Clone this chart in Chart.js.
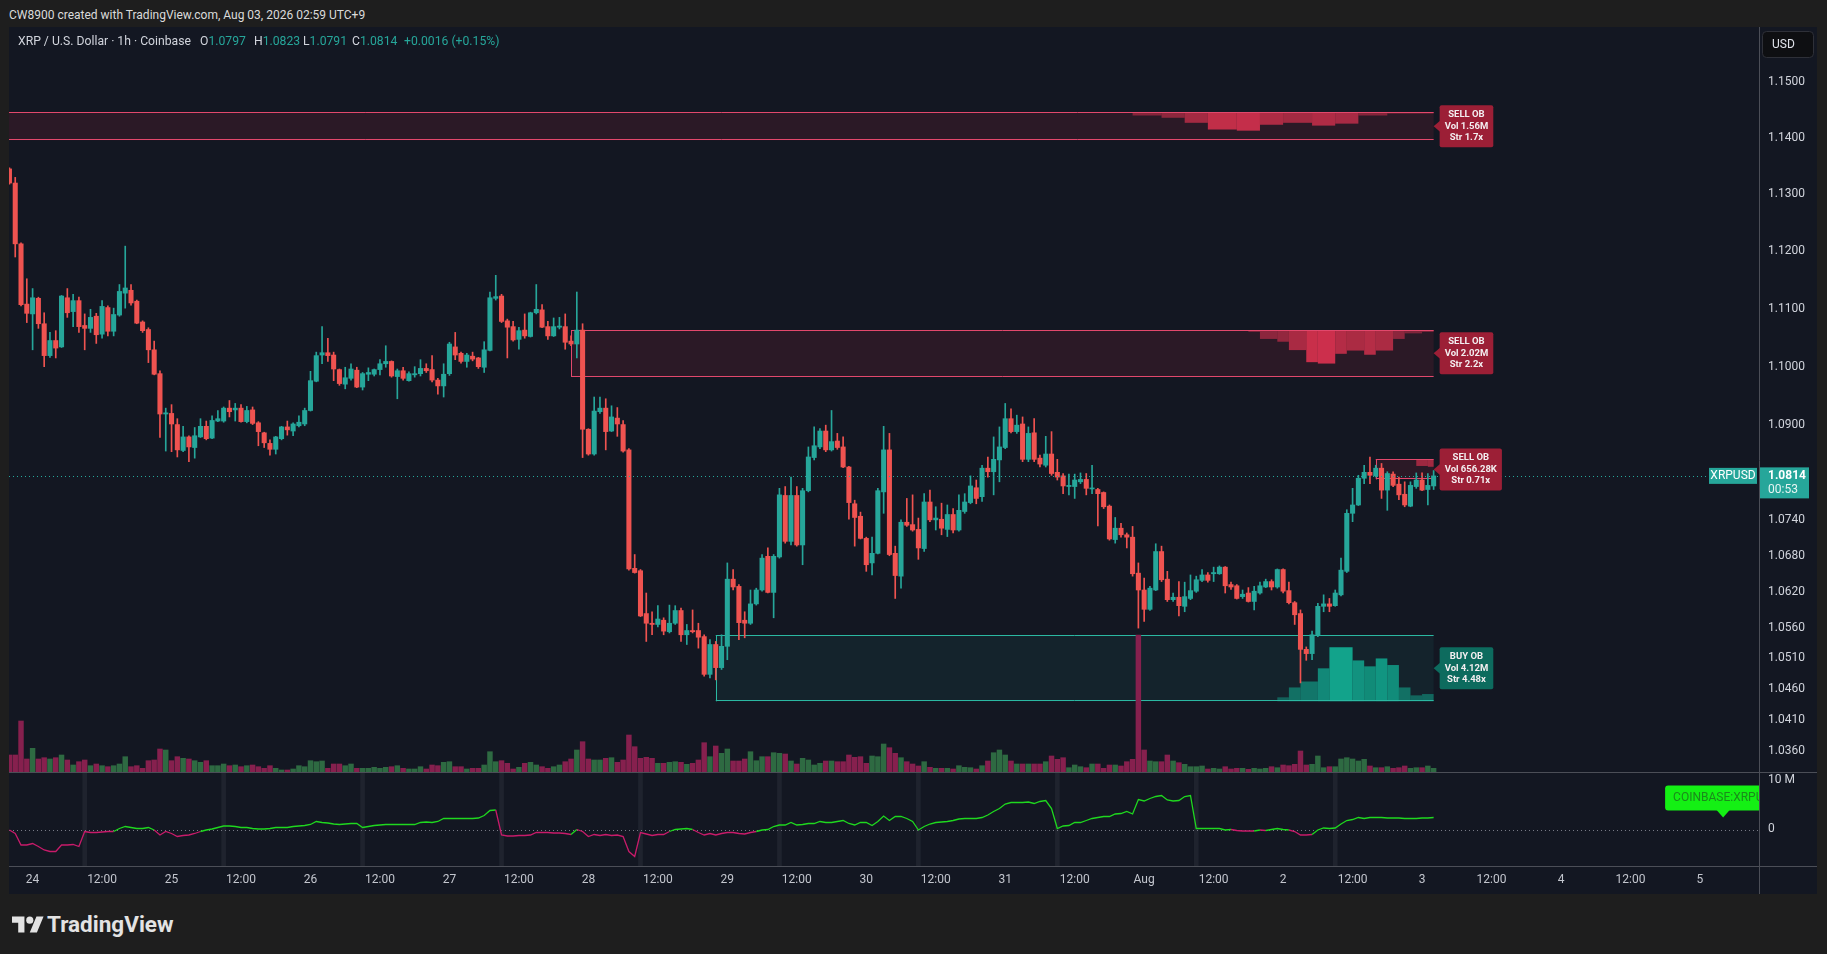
<!DOCTYPE html>
<html>
<head>
<meta charset="utf-8">
<script src="https://cdn.jsdelivr.net/npm/chart.js@4.4.1/dist/chart.umd.min.js"></script>
<style>
html,body{margin:0;padding:0;width:1827px;height:954px;overflow:hidden;background:#1e1e1e;font-family:Roboto,sans-serif}
#hdr{position:absolute;left:9px;top:8px;font-size:12px;line-height:14px;color:#dbdbdb;white-space:nowrap}
#panel{position:absolute;left:9px;top:27px;width:1808px;height:867px;background:#131722}
#title span{position:absolute;top:34px;font-size:12.2px;line-height:14px;color:#d1d4dc;white-space:nowrap}
#title b{font-weight:normal;color:#26a69a}
#logo{position:absolute;left:12px;top:911px;height:26px}
#logo svg{position:absolute;left:0;top:2px}
#logo span{position:absolute;left:35px;top:0;font-size:22.5px;line-height:26px;font-weight:bold;color:#e3e3e3;white-space:nowrap}
</style>
</head>
<body>
<div id="hdr">CW8900 created with TradingView.com, Aug 03, 2026 02:59 UTC+9</div>
<div id="panel"><canvas id="chart" width="1808" height="867"></canvas></div>
<div id="title">
  <span style="left:18px">XRP / U.S. Dollar · 1h · Coinbase</span>
  <span style="left:200px">O<b>1.0797</b></span>
  <span style="left:254px">H<b>1.0823</b></span>
  <span style="left:303px">L<b>1.0791</b></span>
  <span style="left:352px">C<b>1.0814</b></span>
  <span style="left:404px"><b>+0.0016 (+0.15%)</b></span>
</div>
<div id="logo">
  <svg width="32" height="25" viewBox="0 0 36 28"><path d="M14 22H7V11H0V4h14v18zM28 22h-8l7.5-18h8L28 22z" fill="#e3e3e3"/><circle cx="20" cy="8" r="4" fill="#e3e3e3"/></svg>
  <span>TradingView</span>
</div>
<script>
// hourly candles, hour 0 = Jul 24 00:00 (UTC+9), first candle at hour -4
var firstHour = -4;

var opens = [
  1.1345,1.1320,1.1213,1.1108,1.1091,1.1118,1.1074,1.1019,1.1045,1.1034,
  1.1119,1.1095,1.1114,1.1071,1.1066,1.1087,1.1056,1.1102,1.1061,1.1089,
  1.1127,1.1132,1.1113,1.1077,1.1064,1.1029,1.0988,1.0919,1.0920,1.0901,
  1.0857,1.0880,1.0862,1.0880,1.0898,1.0878,1.0907,1.0907,1.0929,1.0926,
  1.0929,1.0906,1.0926,1.0904,1.0887,1.0869,1.0859,1.0877,1.0897,1.0890,
  1.0899,1.0902,1.0925,1.0975,1.1020,1.1024,1.1020,1.0995,1.0970,1.0980,
  1.0994,1.0965,1.0987,1.0987,1.0995,1.1005,1.1009,1.0983,1.0993,1.0976,
  1.0986,1.0988,1.0997,1.0995,1.0977,1.0967,1.0988,1.1034,1.1023,1.1009,
  1.1018,1.1015,1.0999,1.1028,1.1118,1.1122,1.1079,1.1069,1.1047,1.1063,
  1.1052,1.1093,1.1098,1.1069,1.1053,1.1068,1.1069,1.1044,1.1039,1.1063,
  1.0893,1.0851,1.0923,1.0929,1.0890,1.0912,1.0901,1.0858,1.0659,1.0655,
  1.0584,1.0568,1.0566,1.0573,1.0554,1.0568,1.0589,1.0549,1.0556,1.0556,
  1.0546,1.0484,1.0533,1.0495,1.0530,1.0641,1.0629,1.0573,1.0568,1.0600,
  1.0623,1.0679,1.0619,1.0678,1.0781,1.0704,1.0781,1.0698,1.0789,1.0845,
  1.0863,1.0890,1.0858,1.0873,1.0863,1.0829,1.0767,1.0746,1.0709,1.0668,
  1.0684,1.0787,1.0858,1.0684,1.0646,1.0736,1.0732,1.0724,1.0692,1.0770,
  1.0740,1.0741,1.0724,1.0749,1.0723,1.0754,1.0769,1.0794,1.0779,1.0827,
  1.0821,1.0841,1.0862,1.0911,1.0889,1.0902,1.0842,1.0887,1.0844,1.0832,
  1.0851,1.0820,1.0814,1.0796,1.0796,1.0804,1.0808,1.0792,1.0791,1.0786,
  1.0763,1.0707,1.0726,1.0715,1.0711,1.0651,1.0623,1.0591,1.0623,1.0687,
  1.0641,1.0607,1.0611,1.0596,1.0609,1.0621,1.0639,1.0648,1.0650,1.0650,
  1.0661,1.0632,1.0630,1.0612,1.0618,1.0604,1.0618,1.0628,1.0637,1.0628,
  1.0657,1.0622,1.0602,1.0584,1.0525,1.0518,1.0548,1.0596,1.0600,1.0597,
  1.0615,1.0654,1.0751,1.0765,1.0810,1.0820,1.0814,1.0827,1.0790,1.0817,
  1.0800,1.0783,1.0763,1.0796,1.0807,1.0791,1.0797
];
var highs = [
  1.1347,1.1330,1.1215,1.1152,1.1135,1.1120,1.1093,1.1059,1.1062,1.1123,
  1.1135,1.1125,1.1120,1.1091,1.1099,1.1092,1.1114,1.1105,1.1101,1.1142,
  1.1209,1.1142,1.1115,1.1079,1.1067,1.1044,1.0993,1.0929,1.0935,1.0911,
  1.0898,1.0882,1.0896,1.0911,1.0907,1.0916,1.0925,1.0931,1.0942,1.0937,
  1.0935,1.0932,1.0931,1.0906,1.0888,1.0875,1.0881,1.0898,1.0907,1.0904,
  1.0916,1.0929,1.0992,1.1025,1.1069,1.1049,1.1025,1.0996,1.0999,1.1005,
  1.0999,1.0990,1.0998,1.0996,1.1012,1.1036,1.1010,1.0996,1.0999,1.0991,
  1.1000,1.1012,1.1005,1.1019,1.0980,1.1005,1.1042,1.1059,1.1025,1.1023,
  1.1025,1.1016,1.1043,1.1129,1.1158,1.1125,1.1082,1.1078,1.1068,1.1091,
  1.1094,1.1142,1.1107,1.1078,1.1084,1.1085,1.1091,1.1053,1.1129,1.1074,
  1.0894,1.0948,1.0948,1.0945,1.0933,1.0930,1.0908,1.0860,1.0682,1.0657,
  1.0618,1.0587,1.0597,1.0577,1.0598,1.0597,1.0593,1.0566,1.0590,1.0568,
  1.0549,1.0541,1.0538,1.0549,1.0668,1.0657,1.0632,1.0587,1.0623,1.0626,
  1.0682,1.0693,1.0682,1.0793,1.0796,1.0812,1.0796,1.0793,1.0863,1.0897,
  1.0894,1.0900,1.0925,1.0886,1.0880,1.0830,1.0773,1.0753,1.0711,1.0711,
  1.0793,1.0898,1.0886,1.0696,1.0740,1.0776,1.0782,1.0743,1.0784,1.0790,
  1.0762,1.0768,1.0765,1.0759,1.0782,1.0784,1.0814,1.0807,1.0832,1.0846,
  1.0880,1.0897,1.0937,1.0928,1.0917,1.0914,1.0897,1.0911,1.0849,1.0881,
  1.0889,1.0842,1.0818,1.0817,1.0817,1.0819,1.0818,1.0832,1.0793,1.0787,
  1.0765,1.0744,1.0734,1.0718,1.0729,1.0668,1.0643,1.0629,1.0700,1.0696,
  1.0654,1.0618,1.0637,1.0636,1.0648,1.0646,1.0657,1.0652,1.0661,1.0663,
  1.0662,1.0636,1.0632,1.0623,1.0627,1.0629,1.0636,1.0641,1.0640,1.0658,
  1.0658,1.0636,1.0604,1.0590,1.0529,1.0555,1.0601,1.0615,1.0609,1.0623,
  1.0676,1.0757,1.0793,1.0815,1.0832,1.0846,1.0832,1.0835,1.0821,1.0821,
  1.0812,1.0804,1.0804,1.0819,1.0819,1.0818,1.0823
];
var lows = [
  1.1318,1.1190,1.1105,1.1076,1.1029,1.1066,1.1000,1.1016,1.1015,1.1033,
  1.1085,1.1069,1.1059,1.1029,1.1059,1.1040,1.1049,1.1053,1.1053,1.1087,
  1.1101,1.1106,1.1074,1.1059,1.1007,1.0986,1.0879,1.0856,1.0855,1.0846,
  1.0855,1.0838,1.0844,1.0879,1.0875,1.0877,1.0906,1.0905,1.0914,1.0907,
  1.0905,1.0904,1.0901,1.0865,1.0862,1.0849,1.0851,1.0875,1.0883,1.0882,
  1.0897,1.0899,1.0924,1.0974,1.1005,1.1009,1.0976,1.0968,1.0962,1.0977,
  1.0964,1.0960,1.0976,1.0984,1.0986,1.0999,1.0982,1.0945,1.0977,1.0975,
  1.0982,1.0984,1.0990,1.0974,1.0953,1.0948,1.0985,1.1012,1.1006,1.0999,
  1.1010,1.0997,1.0990,1.1027,1.1115,1.1076,1.1015,1.1044,1.1030,1.1049,
  1.1051,1.1091,1.1067,1.1047,1.1052,1.1065,1.1030,1.1036,1.1015,1.0845,
  1.0849,1.0849,1.0920,1.0858,1.0889,1.0881,1.0854,1.0656,1.0651,1.0579,
  1.0538,1.0549,1.0562,1.0549,1.0552,1.0566,1.0538,1.0533,1.0552,1.0527,
  1.0481,1.0478,1.0475,1.0492,1.0508,1.0623,1.0541,1.0544,1.0566,1.0598,
  1.0621,1.0618,1.0577,1.0676,1.0701,1.0698,1.0696,1.0665,1.0787,1.0841,
  1.0860,1.0855,1.0856,1.0859,1.0828,1.0741,1.0696,1.0708,1.0654,1.0648,
  1.0683,1.0751,1.0680,1.0609,1.0626,1.0729,1.0721,1.0674,1.0687,1.0737,
  1.0723,1.0715,1.0712,1.0718,1.0721,1.0751,1.0767,1.0767,1.0771,1.0812,
  1.0782,1.0804,1.0860,1.0887,1.0886,1.0838,1.0838,1.0838,1.0829,1.0829,
  1.0815,1.0807,1.0784,1.0782,1.0776,1.0801,1.0782,1.0784,1.0730,1.0759,
  1.0706,1.0701,1.0711,1.0693,1.0646,1.0560,1.0571,1.0589,1.0622,1.0637,
  1.0604,1.0604,1.0580,1.0587,1.0607,1.0619,1.0637,1.0636,1.0637,1.0649,
  1.0618,1.0624,1.0608,1.0609,1.0603,1.0590,1.0616,1.0627,1.0623,1.0626,
  1.0618,1.0600,1.0566,1.0470,1.0507,1.0508,1.0546,1.0587,1.0587,1.0596,
  1.0613,1.0652,1.0737,1.0764,1.0801,1.0801,1.0812,1.0776,1.0756,1.0796,
  1.0774,1.0762,1.0762,1.0793,1.0789,1.0765,1.0791
];
var closes = [
  1.1320,1.1213,1.1107,1.1092,1.1119,1.1074,1.1019,1.1045,1.1032,1.1122,
  1.1093,1.1114,1.1069,1.1066,1.1085,1.1055,1.1104,1.1061,1.1090,1.1130,
  1.1136,1.1110,1.1075,1.1062,1.1029,1.0987,1.0919,1.0921,1.0902,1.0858,
  1.0880,1.0863,1.0882,1.0898,1.0877,1.0908,1.0911,1.0929,1.0923,1.0929,
  1.0906,1.0925,1.0903,1.0889,1.0870,1.0859,1.0880,1.0897,1.0892,1.0902,
  1.0905,1.0925,1.0976,1.1019,1.1024,1.1019,1.0996,1.0971,1.0981,1.0996,
  1.0965,1.0988,1.0990,1.0995,1.1005,1.1009,1.0984,1.0993,1.0980,1.0988,
  1.0988,1.0997,1.0993,1.0977,1.0967,1.0987,1.1039,1.1020,1.1009,1.1020,
  1.1013,1.1000,1.1029,1.1119,1.1121,1.1078,1.1068,1.1046,1.1062,1.1053,
  1.1093,1.1099,1.1068,1.1053,1.1069,1.1070,1.1042,1.1039,1.1063,1.0893,
  1.0851,1.0924,1.0929,1.0889,1.0914,1.0902,1.0856,1.0658,1.0652,1.0580,
  1.0568,1.0566,1.0575,1.0555,1.0568,1.0589,1.0549,1.0556,1.0554,1.0545,
  1.0484,1.0533,1.0495,1.0530,1.0641,1.0628,1.0569,1.0568,1.0600,1.0623,
  1.0676,1.0619,1.0679,1.0782,1.0704,1.0781,1.0698,1.0789,1.0846,1.0865,
  1.0890,1.0858,1.0872,1.0862,1.0829,1.0769,1.0744,1.0709,1.0665,1.0684,
  1.0789,1.0858,1.0682,1.0647,1.0736,1.0731,1.0723,1.0693,1.0770,1.0740,
  1.0743,1.0726,1.0749,1.0723,1.0756,1.0770,1.0797,1.0776,1.0827,1.0821,
  1.0842,1.0863,1.0911,1.0889,1.0900,1.0842,1.0886,1.0842,1.0834,1.0851,
  1.0818,1.0812,1.0797,1.0798,1.0807,1.0808,1.0793,1.0793,1.0784,1.0762,
  1.0708,1.0726,1.0715,1.0711,1.0650,1.0623,1.0591,1.0626,1.0687,1.0640,
  1.0607,1.0611,1.0597,1.0612,1.0622,1.0640,1.0648,1.0639,1.0652,1.0661,
  1.0630,1.0628,1.0609,1.0616,1.0604,1.0621,1.0630,1.0637,1.0628,1.0657,
  1.0621,1.0602,1.0582,1.0525,1.0518,1.0549,1.0596,1.0600,1.0596,1.0618,
  1.0656,1.0751,1.0765,1.0810,1.0820,1.0815,1.0827,1.0790,1.0818,1.0798,
  1.0782,1.0765,1.0798,1.0807,1.0790,1.0798,1.0814
];
// volume in millions
var volumes = [
  1.70,1.70,5.10,1.30,2.37,1.30,1.43,1.30,1.43,1.70,
  1.20,0.70,1.03,1.20,0.63,0.80,0.63,0.53,0.63,0.80,
  1.53,0.53,0.63,0.37,1.13,1.20,2.30,2.20,1.13,1.53,
  1.37,1.30,1.13,0.97,1.13,0.63,0.63,0.80,0.63,0.70,
  0.53,0.63,0.70,0.53,0.37,0.63,0.37,0.20,0.20,0.30,
  0.63,0.53,1.13,1.03,1.10,0.37,0.80,0.80,0.63,0.80,
  0.37,0.37,0.37,0.47,0.37,0.47,0.53,0.63,0.37,0.30,
  0.30,0.53,0.30,0.70,0.63,0.97,1.03,0.53,0.53,0.30,
  0.37,0.37,0.70,2.03,1.03,1.13,0.87,0.30,0.47,0.87,
  0.97,0.70,0.53,0.37,0.53,0.70,1.03,1.30,2.20,3.03,
  1.30,1.20,1.20,1.37,1.43,0.97,1.20,3.70,2.53,1.37,
  1.47,1.37,0.87,0.87,0.97,1.03,0.97,0.77,0.87,1.20,
  2.93,1.53,2.60,1.87,2.30,1.10,1.10,1.30,2.03,1.13,
  1.53,1.53,1.93,1.87,1.80,1.10,0.80,1.37,1.20,0.70,
  0.87,1.10,1.10,1.03,1.03,1.70,1.47,1.53,0.87,1.60,
  1.53,2.80,2.43,1.87,1.43,1.03,0.80,0.60,1.03,0.47,
  0.37,0.37,0.37,0.30,0.63,0.47,0.43,0.30,0.63,1.10,
  1.93,2.20,1.70,1.10,0.80,0.80,0.80,0.80,0.80,1.03,
  1.60,1.27,1.43,0.43,0.70,0.53,0.43,0.80,0.80,0.37,
  0.70,0.70,0.60,1.03,1.27,13.70,2.20,1.10,1.03,1.03,
  1.70,1.10,0.93,0.77,0.53,0.53,0.60,0.30,0.37,0.30,
  0.53,0.30,0.37,0.37,0.27,0.37,0.30,0.37,0.53,0.43,
  0.70,0.63,0.77,2.10,0.70,0.77,1.60,0.43,0.53,0.53,
  1.30,1.43,1.30,1.10,1.27,0.60,0.43,0.43,0.53,0.37,
  0.43,0.60,0.37,0.43,0.43,0.60,0.37
];
// session volume delta (millions), lower pane
var deltas = [
  0,-0.7,-3.0,-3.0,-2.7,-3.3,-4.0,-4.3,-4.3,-3.0,
  -3.0,-2.9,-3.3,-0.3,-0.5,-0.5,-0.4,-0.3,-0.3,0.3,
  0.7,0.5,0.3,0.3,0.5,0,-1.0,-0.3,-0.7,-1.3,
  -1.1,-1.0,-0.7,-0.3,0,0.2,0.5,0.8,0.8,0.7,
  0.5,0.5,0.3,0.2,0.2,0.3,0.5,0.5,0.5,0.7,
  0.8,0.9,1.1,1.7,1.5,1.4,1.2,1.1,1.2,1.3,
  1.3,0.5,0.7,0.9,1.0,1.1,1.1,1.1,1.1,1.1,
  1.1,1.5,1.6,1.5,1.7,2.3,2.3,2.3,2.3,2.3,
  2.3,2.4,2.9,3.9,4.0,-1.0,-1.2,-1.2,-1.1,-1.1,
  -1.0,-0.5,-0.5,-0.5,-0.6,-0.6,-0.7,-0.9,0.1,-0.3,
  -1.3,-0.9,-1.1,-0.9,-1.1,-1.0,-1.3,-4.3,-5.3,-0.5,
  -0.8,-1.1,-0.9,-0.9,-0.3,0.1,0.2,0.3,0.1,-0.5,
  -1.0,-0.7,-1.0,-0.7,-0.5,-0.5,-0.7,-0.8,-0.5,-0.3,
  0,0.1,0.7,1.0,1.0,1.5,1.0,1.1,1.3,1.3,
  1.7,1.5,1.5,1.7,1.9,1.3,1.0,1.5,1.5,0.9,
  1.7,2.8,1.9,2.7,2.7,2.3,1.7,0,0.7,1.2,
  1.5,1.6,1.7,1.9,2.2,2.3,2.3,2.3,2.5,3.0,
  3.7,4.3,5.2,5.5,5.5,5.5,5.6,5.3,5.7,5.9,
  4.3,0.3,0.8,0.9,1.5,1.5,1.9,2.3,2.5,2.7,
  2.7,3.2,3.3,3.7,3.2,6.1,5.8,6.3,6.7,6.9,
  6.0,5.8,5.9,6.7,6.9,0.3,0.3,0.3,0.3,0.3,
  0,0.1,-0.1,-0.2,-0.2,-0.2,0,-0.1,0.1,0.3,
  0.1,0,-0.3,-1.0,-1.0,-0.9,0,0.4,0.3,0.4,
  1.2,1.9,2.1,2.5,2.3,2.5,2.5,2.5,2.4,2.4,
  2.4,2.3,2.3,2.3,2.4,2.4,2.5
];

var sessionHours = [9, 33, 57, 81, 105, 129, 153, 177, 201, 225];

var xTickHours  = [0,12,24,36,48,60,72,84,96,108,120,132,144,156,168,180,192,204,216,228,240,252,264,276,288];
var xTickLabels = ['24','12:00','25','12:00','26','12:00','27','12:00','28','12:00','29','12:00','30','12:00','31','12:00','Aug','12:00','2','12:00','3','12:00','4','12:00','5'];
var priceTicks  = [1.15,1.14,1.13,1.12,1.11,1.10,1.09,1.074,1.068,1.062,1.056,1.051,1.046,1.041,1.036];

// order blocks
var obSide     = ['sell','sell','sell','buy'];
var obStart    = [-10, 93, 232, 118];
var obEnd      = [242, 242, 242, 242];
var obTop      = [1.1446, 1.1063, 1.0842, 1.0548];
var obBottom   = [1.1396, 1.0983, 1.0808, 1.0440];
var obVolume   = ['1.56M', '2.02M', '656.28K', '4.12M'];
var obStrength = ['1.7x', '2.2x', '0.71x', '4.48x'];
var obProfileEdges = [
  [190,195,199,203,208,212,216,221,225,229,234,242],
  [210,212,215,217,220,222,225,227,230,232,235,237,240,242],
  [239,241,242],
  [215,217,219,222,224,226,228,230,232,234,236,238,240,242]
];
var obProfileDepth = [
  [0.12,0.20,0.38,0.62,0.66,0.45,0.38,0.48,0.41,0.12,0.05],
  [0.04,0.19,0.25,0.43,0.69,0.72,0.51,0.44,0.53,0.44,0.19,0.07,0.04],
  [0.33,0.37],
  [0.06,0.21,0.30,0.50,0.82,0.82,0.62,0.53,0.65,0.55,0.21,0.09,0.11]
];

var lastPrice = 1.0814;
var countdown = '00:53';
var labelHour = 292;

var UP = '#26a69a', DOWN = '#ef5350';
var VOL_UP = '#2e6a42', VOL_DOWN = '#86204e';
var IND_UP = '#1fd81f', IND_DOWN = '#c81b6a';
var LINE = '#4b4e57';

Chart.defaults.font.family = 'Roboto, sans-serif';

var hours = opens.map(function (o, i) { return firstHour + i; });
function isUp(i) { return closes[i] >= opens[i]; }

var wickData  = hours.map(function (h, i) { return { x: h, y: [lows[i], highs[i]] }; });
var bodyData  = hours.map(function (h, i) { return { x: h, y: [opens[i], closes[i]] }; });
var volData   = hours.map(function (h, i) { return { x: h, y: volumes[i] }; });
var deltaData = hours.map(function (h, i) { return { x: h, y: deltas[i] }; });

function candleColor(c) { return isUp(c.dataIndex) ? UP : DOWN; }

function pointerLabel(ctx, tipX, yc, w, h, bg) {
  var x0 = tipX + 6;
  ctx.fillStyle = bg;
  ctx.beginPath();
  ctx.roundRect(x0, yc - h / 2, w, h, 2);
  ctx.fill();
  ctx.beginPath();
  ctx.moveTo(tipX, yc);
  ctx.lineTo(x0 + 1, yc - 6);
  ctx.lineTo(x0 + 1, yc + 6);
  ctx.closePath();
  ctx.fill();
}

var panes = {
  id: 'panes',
  beforeDatasetsDraw: function (chart) {
    var ctx = chart.ctx, a = chart.chartArea, s = chart.scales;
    var x = s.x, y = s.y;
    var paneTop = s.yVol.getPixelForValue(0);
    ctx.save();
    ctx.beginPath();
    ctx.rect(a.left, a.top, a.width, a.height);
    ctx.clip();

    // session highlight in lower pane
    ctx.fillStyle = 'rgba(140,146,160,0.10)';
    sessionHours.forEach(function (h) {
      var l = x.getPixelForValue(h - 0.4), r = x.getPixelForValue(h + 0.4);
      ctx.fillRect(l, paneTop + 1, r - l, a.bottom - paneTop - 1);
    });

    // zero line of lower pane
    var z = Math.round(s.yInd.getPixelForValue(0)) + 0.5;
    ctx.strokeStyle = '#787b86';
    ctx.setLineDash([1, 3]);
    ctx.lineWidth = 1;
    ctx.beginPath();
    ctx.moveTo(a.left, z);
    ctx.lineTo(a.right, z);
    ctx.stroke();
    ctx.setLineDash([]);

    // order blocks
    obSide.forEach(function (side, i) {
      var sell = side === 'sell';
      var rawL = x.getPixelForValue(obStart[i]);
      var l = Math.max(a.left, rawL);
      var r = x.getPixelForValue(obEnd[i]);
      var t = y.getPixelForValue(obTop[i]);
      var b = y.getPixelForValue(obBottom[i]);
      ctx.fillStyle = sell ? 'rgba(220,40,70,0.12)' : 'rgba(38,166,154,0.09)';
      ctx.fillRect(l, t, r - l, b - t);

      var E = obProfileEdges[i];
      obProfileDepth[i].forEach(function (d, j) {
        var p0 = x.getPixelForValue(E[j]), p1 = x.getPixelForValue(E[j + 1]);
        var hh = d * (b - t);
        if (sell) {
          ctx.fillStyle = 'rgba(230,52,82,' + (0.4 + 0.65 * d) + ')';
          ctx.fillRect(p0, t, p1 - p0, hh);
        } else {
          ctx.fillStyle = 'rgba(18,180,152,' + (0.4 + 0.6 * d) + ')';
          ctx.fillRect(p0, b - hh, p1 - p0, hh);
        }
      });

      ctx.strokeStyle = sell ? '#e2486c' : '#2bb8a2';
      ctx.lineWidth = 1;
      ctx.beginPath();
      ctx.moveTo(l, Math.round(t) + 0.5); ctx.lineTo(r, Math.round(t) + 0.5);
      ctx.moveTo(l, Math.round(b) - 0.5); ctx.lineTo(r, Math.round(b) - 0.5);
      if (rawL >= a.left) {
        ctx.moveTo(Math.round(l) + 0.5, t); ctx.lineTo(Math.round(l) + 0.5, b);
      }
      ctx.stroke();
    });
    ctx.restore();
  },
  afterDraw: function (chart) {
    var ctx = chart.ctx, a = chart.chartArea, s = chart.scales;
    var x = s.x, y = s.y, W = chart.width, H = chart.height;
    ctx.save();

    // pane separators and axis borders
    var sep = Math.round(s.yVol.getPixelForValue(0)) + 0.5;
    ctx.strokeStyle = LINE;
    ctx.lineWidth = 1;
    ctx.beginPath();
    ctx.moveTo(0, sep); ctx.lineTo(W, sep);
    ctx.moveTo(0, Math.round(a.bottom) + 0.5); ctx.lineTo(W, Math.round(a.bottom) + 0.5);
    ctx.moveTo(Math.round(a.right) + 0.5, 0); ctx.lineTo(Math.round(a.right) + 0.5, H);
    ctx.stroke();

    // last price line
    var yp = y.getPixelForValue(lastPrice);
    ctx.strokeStyle = UP;
    ctx.setLineDash([1, 3]);
    ctx.beginPath();
    ctx.moveTo(a.left, Math.round(yp) + 0.5);
    ctx.lineTo(a.right - 50, Math.round(yp) + 0.5);
    ctx.stroke();
    ctx.setLineDash([]);

    // order block labels
    ctx.font = 'bold 9.5px Roboto, sans-serif';
    ctx.textAlign = 'center';
    ctx.textBaseline = 'middle';
    obSide.forEach(function (side, i) {
      var sell = side === 'sell';
      var lines = [sell ? 'SELL OB' : 'BUY OB', 'Vol ' + obVolume[i], 'Str ' + obStrength[i]];
      var w = Math.max.apply(null, lines.map(function (t) { return ctx.measureText(t).width; })) + 10;
      var tip = x.getPixelForValue(obEnd[i]);
      var yc = (y.getPixelForValue(obTop[i]) + y.getPixelForValue(obBottom[i])) / 2;
      pointerLabel(ctx, tip, yc, w, 42, sell ? '#9c1f36' : '#0d6b5e');
      ctx.fillStyle = '#f3eef0';
      lines.forEach(function (t, k) { ctx.fillText(t, tip + 6 + w / 2, yc + (k - 1) * 11.5); });
    });

    // symbol label and last price on axis
    ctx.fillStyle = UP;
    ctx.fillRect(a.right - 50, yp - 8, 48, 16);
    ctx.fillRect(a.right + 1, yp - 8.5, 49, 31);
    ctx.fillStyle = '#ffffff';
    ctx.font = '12px Roboto, sans-serif';
    ctx.fillText('XRPUSD', a.right - 26, yp);
    ctx.textAlign = 'left';
    ctx.font = 'bold 12px Roboto, sans-serif';
    ctx.fillText(lastPrice.toFixed(4), a.right + 9, yp);
    ctx.font = '12px Roboto, sans-serif';
    ctx.fillStyle = '#e6f5f3';
    ctx.fillText(countdown, a.right + 9, yp + 14.5);

    // lower pane axis labels
    ctx.fillStyle = '#d1d4dc';
    ctx.fillText('10 M', a.right + 9, s.yInd.getPixelForValue(10));
    ctx.fillText('0', a.right + 9, s.yInd.getPixelForValue(0) - 1);

    // currency box
    ctx.fillStyle = '#0e0f12';
    ctx.strokeStyle = '#2e3038';
    ctx.beginPath();
    ctx.roundRect(a.right + 3.5, 4.5, 51, 26, 4);
    ctx.fill();
    ctx.stroke();
    ctx.fillStyle = '#e0e3eb';
    ctx.fillText('USD', a.right + 13, 18);

    // symbol tag in lower pane, clipped by the pane
    ctx.save();
    ctx.beginPath();
    ctx.rect(a.left, a.top, a.width, a.bottom - a.top);
    ctx.clip();
    var tx = x.getPixelForValue(labelHour);
    var ty = s.yInd.getPixelForValue(deltas[deltas.length - 1]);
    var bx = tx - 58, bb = ty - 7;
    ctx.fillStyle = '#14f014';
    ctx.beginPath();
    ctx.roundRect(bx, bb - 25, 120, 25, 3);
    ctx.fill();
    ctx.beginPath();
    ctx.moveTo(tx - 7, bb - 1); ctx.lineTo(tx + 7, bb - 1); ctx.lineTo(tx, ty); ctx.closePath();
    ctx.fill();
    ctx.fillStyle = '#1b8a1b';
    ctx.font = '12px Roboto, sans-serif';
    ctx.fillText('COINBASE:XRPUSD', bx + 8, bb - 12.5);
    ctx.restore();

    ctx.restore();
  }
};

new Chart(document.getElementById('chart'), {
  type: 'bar',
  data: {
    datasets: [
      { type: 'line', data: deltaData, yAxisID: 'yInd', borderColor: IND_UP, borderWidth: 1.3,
        pointRadius: 0, tension: 0, order: 0,
        segment: { borderColor: function (c) { return c.p1.parsed.y >= 0 ? IND_UP : IND_DOWN; } } },
      { data: bodyData, yAxisID: 'y', backgroundColor: candleColor, barThickness: 4.4,
        minBarLength: 1, grouped: false, order: 1 },
      { data: wickData, yAxisID: 'y', backgroundColor: candleColor, barThickness: 1,
        grouped: false, order: 2 },
      { data: volData, yAxisID: 'yVol', backgroundColor: function (c) { return isUp(c.dataIndex) ? VOL_UP : VOL_DOWN; },
        barThickness: 4.8, grouped: false, order: 3 }
    ]
  },
  options: {
    responsive: false,
    animation: false,
    devicePixelRatio: 1,
    events: [],
    layout: { padding: 0 },
    plugins: { legend: { display: false }, tooltip: { enabled: false } },
    scales: {
      x: {
        type: 'linear', min: -4.076, max: 298.2, offset: false, bounds: 'data',
        grid: { display: false, drawTicks: false }, border: { display: false },
        afterBuildTicks: function (sc) { sc.ticks = xTickHours.map(function (v) { return { value: v }; }); },
        afterFit: function (sc) { sc.height = 28; sc.paddingLeft = 0; sc.paddingRight = 0; },
        ticks: { autoSkip: false, maxRotation: 0, padding: 7, color: '#c3c6ce', font: { size: 12 },
          callback: function (v, i) { return xTickLabels[i]; } }
      },
      y: {
        type: 'logarithmic', position: 'right', min: 1.01749, max: 1.15992, bounds: 'data',
        grid: { display: false, drawTicks: false }, border: { display: false },
        afterBuildTicks: function (sc) { sc.ticks = priceTicks.map(function (v) { return { value: v }; }); },
        afterFit: function (sc) { sc.width = 58; sc.paddingTop = 0; sc.paddingBottom = 0; },
        ticks: { padding: 9, color: '#d1d4dc', font: { size: 12 },
          callback: function (v) { return Number(v).toFixed(4); } }
      },
      yVol: { type: 'linear', display: false, min: -9.4, max: 74.5, bounds: 'data' },
      yInd: { type: 'linear', display: false, min: -7.2, max: 160.6, bounds: 'data' }
    }
  },
  plugins: [panes]
});
</script>
</body>
</html>
